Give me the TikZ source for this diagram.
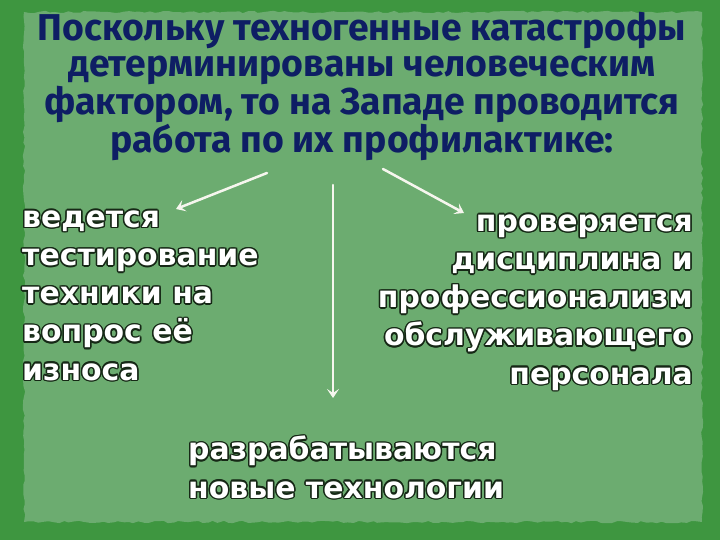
\documentclass[tikz,border=0pt]{standalone}
\usepackage{fontspec}
\usepackage{contour}
\usetikzlibrary{decorations.pathmorphing,arrows.meta}
\newfontfamily\titlefont{Fira Sans}
\newfontfamily\bodyfont{DejaVu Sans}
\definecolor{outergreen}{RGB}{62,150,64}
\definecolor{panelgreen}{RGB}{108,172,112}
\definecolor{titleblue}{RGB}{14,30,100}
\definecolor{olcol}{RGB}{22,40,22}
\contourlength{1.5pt}
\contournumber{12}
\newcommand\ol[1]{\contour{olcol}{#1}}
\tikzset{
  titletext/.style={font=\titlefont\bfseries\fontsize{37.5}{36.5}\selectfont, text=titleblue, align=center, inner sep=0pt},
  bodytext/.style={font=\bodyfont\bfseries\fontsize{30}{38.3}\selectfont, text=white, inner sep=0pt},
  arr/.style={draw={rgb,255:red,246;green,246;blue,238}, line width=2.5bp, line cap=round, -{Stealth[length=9bp,width=12bp,inset=4bp]}}
}
\begin{document}
\begin{tikzpicture}[x=1bp,y=-1bp]
\useasboundingbox (0,0) rectangle (720,540);
\fill[outergreen] (0,0) rectangle (720,540);
\fill[panelgreen, decorate, decoration={random steps,segment length=5pt,amplitude=1.2pt}] (24,12) rectangle (702,522);
\node[titletext, anchor=north] (title) at (362,12) {Поскольку техногенные катастрофы\\детерминированы человеческим\\фактором, то на Западе проводится\\работа по их профилактике:};
\node[bodytext, align=left, anchor=base west] (left) at (22,380) {\ol{ведется}\\\ol{тестирование}\\\ol{техники на}\\\ol{вопрос её}\\\ol{износа}};
\node[bodytext, align=right, anchor=base east] (right) at (693,384) {\ol{проверяется}\\\ol{дисциплина и}\\\ol{профессионализм}\\\ol{обслуживающего}\\\ol{персонала}};
\node[bodytext, align=left, anchor=base west] (bottom) at (188,498) {\ol{разрабатываются}\\\ol{новые технологии}};
\coordinate (la) at (267,173);
\coordinate (ra) at (383,169);
\coordinate (ma) at (333,185);
\coordinate (lt) at (176,209);
\coordinate (rt) at (464,213);
\coordinate (mt) at (333,398);
\draw[arr] (la) -- (lt);
\draw[arr] (ra) -- (rt);
\draw[arr] (ma) -- (mt);
\end{tikzpicture}
\end{document}
